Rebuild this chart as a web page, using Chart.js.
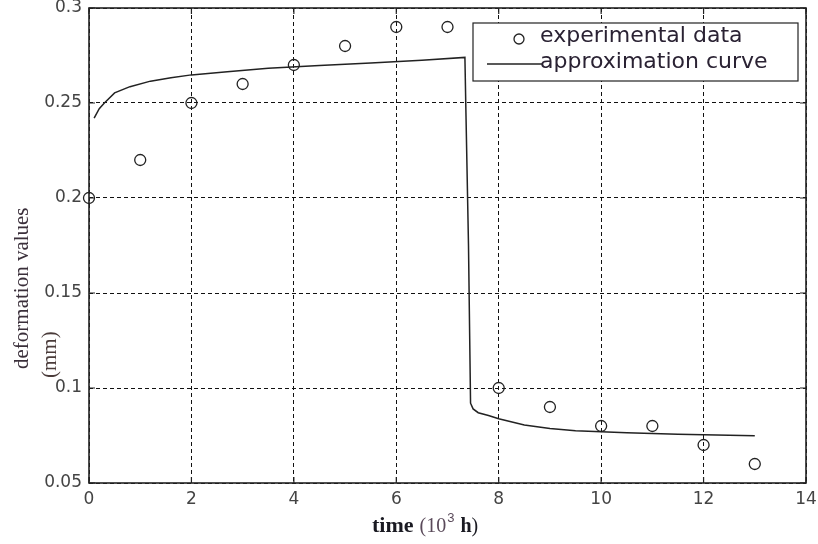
<!DOCTYPE html>
<html lang="en">
<head>
    <meta charset="UTF-8">
    <title>Deformation vs time</title>
    <script src="https://cdn.jsdelivr.net/npm/chart.js"></script>
    <style>
        body { margin: 0; background: #fff; }
        canvas { display: block; }
    </style>
</head>
<body>
    <canvas id="deformChart" width="818" height="544"></canvas>

    <script>
        // measured points (time in 10^3 h, deformation in mm)
        const expTime = [0, 1, 2, 3, 4, 5, 6, 7, 8, 9, 10, 11, 12, 13];
        const expDeformation = [0.2, 0.22, 0.25, 0.26, 0.27, 0.28, 0.29, 0.29, 0.1, 0.09, 0.08, 0.08, 0.07, 0.06];

        // approximation curve
        const curveTime = [0.1, 0.2, 0.3, 0.5, 0.8, 1.2, 1.6, 2.0, 2.7, 3.5, 4.5, 5.5, 6.5, 7.34,
                           7.36, 7.41, 7.45, 7.5, 7.6, 7.8, 8.0, 8.5, 9.0, 9.5, 10.0, 10.5, 11.0, 11.5, 12.0, 12.5, 13.0];
        const curveDeformation = [0.242, 0.247, 0.250, 0.2553, 0.2586, 0.2615, 0.2633, 0.2648, 0.2665, 0.2683, 0.2697, 0.271, 0.2725, 0.274,
                                  0.245, 0.175, 0.092, 0.089, 0.087, 0.0855, 0.0838, 0.0805, 0.0787, 0.0775, 0.077, 0.0765, 0.076, 0.0757, 0.0754, 0.0751, 0.0749];

        const xTickLabels = ['0', '2', '4', '6', '8', '10', '12', '14'];
        const yTickLabels = ['0.05', '0.1', '0.15', '0.2', '0.25', '0.3'];

        const legendLabels = ['experimental data', 'approximation curve'];

        const toPoints = (xs, ys) => xs.map((x, i) => ({ x: x, y: ys[i] }));

        const tickFont = { family: '"DejaVu Sans", Arial, sans-serif', size: 17 };

        // box, inward ticks, axis titles and legend (matlab style)
        const matlabDecor = {
            id: 'matlabDecor',
            afterDatasetsDraw(chart) {
                const ctx = chart.ctx;
                const a = chart.chartArea;
                const xs = chart.scales.x, ys = chart.scales.y;
                ctx.save();

                // inward ticks
                ctx.strokeStyle = '#222';
                ctx.lineWidth = 1.2;
                ctx.beginPath();
                xs.ticks.forEach(t => {
                    const px = xs.getPixelForValue(t.value);
                    ctx.moveTo(px, a.bottom); ctx.lineTo(px, a.bottom - 6);
                    ctx.moveTo(px, a.top); ctx.lineTo(px, a.top + 6);
                });
                ys.ticks.forEach(t => {
                    const py = ys.getPixelForValue(t.value);
                    ctx.moveTo(a.left, py); ctx.lineTo(a.left + 6, py);
                    ctx.moveTo(a.right, py); ctx.lineTo(a.right - 6, py);
                });
                ctx.stroke();

                // axes box
                ctx.lineWidth = 1.6;
                ctx.strokeStyle = '#222';
                ctx.strokeRect(a.left, a.top, a.right - a.left, a.bottom - a.top);

                // legend
                const lx = 473, ly = 23, lw = 325, lh = 58;
                ctx.fillStyle = '#fff';
                ctx.fillRect(lx, ly, lw, lh);
                ctx.lineWidth = 1.2;
                ctx.strokeRect(lx, ly, lw, lh);

                ctx.beginPath();
                ctx.lineWidth = 1.3;
                ctx.arc(519, 39, 5, 0, Math.PI * 2);
                ctx.stroke();

                ctx.beginPath();
                ctx.lineWidth = 1.5;
                ctx.moveTo(487, 64); ctx.lineTo(542, 64);
                ctx.stroke();

                ctx.fillStyle = '#2a2233';
                ctx.font = '22px "DejaVu Sans", Arial, sans-serif';
                ctx.textAlign = 'left';
                ctx.textBaseline = 'middle';
                ctx.fillText(legendLabels[0], 540, 36);
                ctx.fillText(legendLabels[1], 540, 62);

                // x axis title: time (10^3 h)
                ctx.textBaseline = 'alphabetic';
                let x = 372;
                const base = 532;
                ctx.fillStyle = '#1a1a22';
                ctx.font = 'bold 22px "Liberation Serif", "Times New Roman", serif';
                ctx.fillText('time', x, base);
                x += ctx.measureText('time').width + 6;
                ctx.fillStyle = '#5a4a5a';
                ctx.font = '20px "Liberation Serif", "Times New Roman", serif';
                ctx.fillText('(10', x, base);
                x += ctx.measureText('(10').width;
                ctx.font = '13px "Liberation Sans", Arial, sans-serif';
                ctx.fillText('3', x + 1, base - 10);
                x += ctx.measureText('3').width + 7;
                ctx.fillStyle = '#1a1a22';
                ctx.font = 'bold 20px "Liberation Serif", "Times New Roman", serif';
                ctx.fillText('h', x, base);
                x += ctx.measureText('h').width;
                ctx.font = '20px "Liberation Serif", "Times New Roman", serif';
                ctx.fillText(')', x, base);

                // y axis title, two lines
                ctx.save();
                ctx.rotate(-Math.PI / 2);
                ctx.font = '21px "Liberation Serif", "Times New Roman", serif';
                ctx.fillStyle = '#3a2f3a';
                ctx.textAlign = 'left';
                ctx.fillText('deformation values', -369, 28);
                ctx.fillStyle = '#4a3b3a';
                ctx.fillText('(mm)', -378, 56);
                ctx.restore();

                ctx.restore();
            }
        };

        function createChart() {
            const ctx = document.getElementById('deformChart').getContext('2d');
            new Chart(ctx, {
                type: 'scatter',
                data: {
                    datasets: [
                        {
                            label: legendLabels[0],
                            data: toPoints(expTime, expDeformation),
                            pointStyle: 'circle',
                            pointRadius: 5.5,
                            pointBorderWidth: 1.3,
                            pointBorderColor: '#222',
                            pointBackgroundColor: 'rgba(255,255,255,0)',
                            showLine: false,
                            clip: 8
                        },
                        {
                            label: legendLabels[1],
                            type: 'line',
                            data: toPoints(curveTime, curveDeformation),
                            borderColor: '#222',
                            borderWidth: 1.5,
                            pointRadius: 0,
                            tension: 0,
                            fill: false
                        }
                    ]
                },
                options: {
                    responsive: false,
                    animation: false,
                    devicePixelRatio: 1,
                    layout: { padding: { top: 8, right: 12, left: 0, bottom: 0 } },
                    plugins: {
                        legend: { display: false },
                        tooltip: { enabled: false }
                    },
                    scales: {
                        x: {
                            type: 'linear',
                            min: 0,
                            max: 14,
                            afterFit: s => { s.height = 61; s.paddingLeft = 0; s.paddingRight = 0; },
                            afterBuildTicks: s => { s.ticks = xTickLabels.map(v => ({ value: Number(v) })); },
                            ticks: {
                                callback: (v, i) => xTickLabels[i],
                                color: '#444',
                                padding: 6,
                                font: tickFont
                            },
                            grid: { color: '#111', lineWidth: 1, drawTicks: false },
                            border: { display: false, dash: [4, 3] }
                        },
                        y: {
                            type: 'linear',
                            min: 0.05,
                            max: 0.3,
                            afterFit: s => { s.width = 89; s.paddingTop = 0; s.paddingBottom = 0; },
                            afterBuildTicks: s => { s.ticks = yTickLabels.map(v => ({ value: Number(v) })); },
                            ticks: {
                                callback: (v, i) => yTickLabels[i],
                                color: '#444',
                                padding: 7,
                                font: tickFont
                            },
                            grid: { color: '#111', lineWidth: 1, drawTicks: false },
                            border: { display: false, dash: [4, 3] }
                        }
                    }
                },
                plugins: [matlabDecor]
            });
        }

        createChart();
    </script>
</body>
</html>
